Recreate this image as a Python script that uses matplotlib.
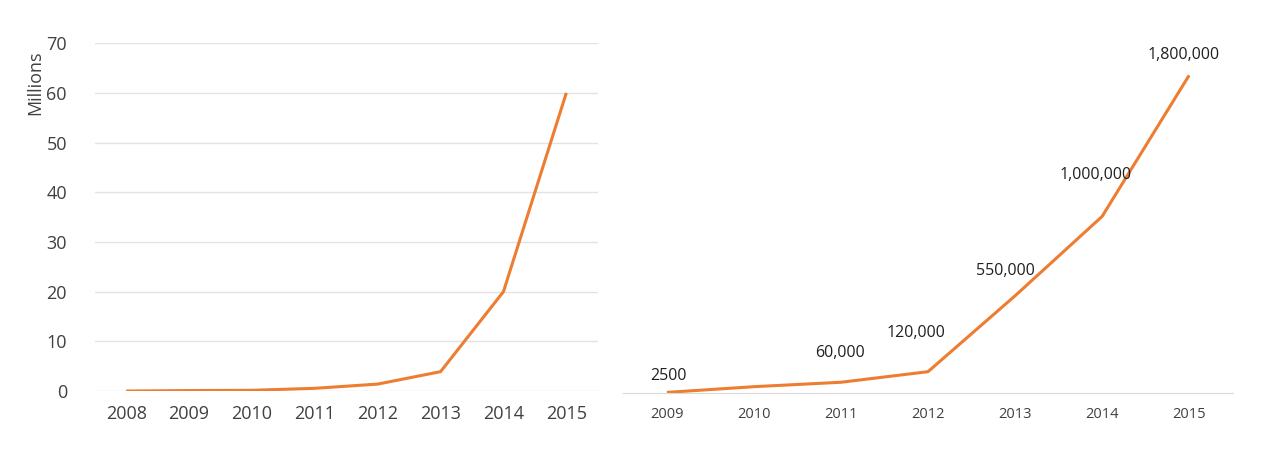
import matplotlib.pyplot as plt

plt.rcParams['font.family'] = ['Open Sans', 'DejaVu Sans']

# left chart: users in millions
years_left = ['2008', '2009', '2010', '2011', '2012', '2013', '2014', '2015']
millions = [0, 0.1, 0.15, 0.55, 1.4, 3.9, 20, 60]

# right chart: absolute counts
years_right = ['2009', '2010', '2011', '2012', '2013', '2014', '2015']
counts = [2500, 35000, 60000, 120000, 550000, 1000000, 1800000]
count_labels = ['2500', '', '60,000', '120,000', '550,000', '1,000,000', '1,800,000']

orange = '#ED7D31'
grid_col = '#e3e3e3'
text_col = '#404040'

fig = plt.figure(figsize=(12.8, 4.5), dpi=100)

# --- left panel
ax1 = fig.add_axes([0.074, 0.131, 0.393, 0.773])
ax1.plot(range(len(years_left)), millions, color=orange, lw=2.2, solid_capstyle='butt')
ax1.set_xlim(-0.5, len(years_left) - 0.5)
ax1.set_ylim(0, 70)
ax1.set_yticks(range(0, 71, 10))
ax1.set_xticks(range(len(years_left)))
ax1.set_xticklabels(years_left)
ax1.yaxis.grid(True, color=grid_col, lw=1)
ax1.set_axisbelow(True)
for s in ax1.spines.values():
    s.set_visible(False)
ax1.tick_params(length=0, labelsize=13, colors=text_col, pad=10)
ax1.tick_params(axis='y', pad=20)
ax1.set_ylabel('Millions', fontsize=13, color=text_col)
ax1.yaxis.set_label_coords(-0.10, 0.885)

# --- right panel
ax2 = fig.add_axes([0.487, 0.127, 0.476, 0.784])
ax2.plot(range(len(years_right)), counts, color=orange, lw=2.2, solid_capstyle='butt')
ax2.set_xlim(-0.5, len(years_right) - 0.5)
ax2.set_ylim(0, 2000000)
ax2.set_yticks([])
ax2.set_xticks(range(len(years_right)))
ax2.set_xticklabels(years_right)
for s in ['top', 'right', 'left']:
    ax2.spines[s].set_visible(False)
ax2.spines['bottom'].set_color('#d9d9d9')
ax2.tick_params(length=0, labelsize=10.5, colors=text_col, pad=10)

# label offsets in points (dx, dy)
offsets = [(1, 6), (0, 0), (-1, 15), (-9, 22), (-7, 12), (-5, 24), (-4, 9)]
for i, (v, lab) in enumerate(zip(counts, count_labels)):
    if not lab:
        continue
    ax2.annotate(lab, (i, v), xytext=offsets[i], textcoords='offset points',
                 ha='center', va='bottom', fontsize=11.5, color='#202020')

fig.savefig('out.png', dpi=100)
